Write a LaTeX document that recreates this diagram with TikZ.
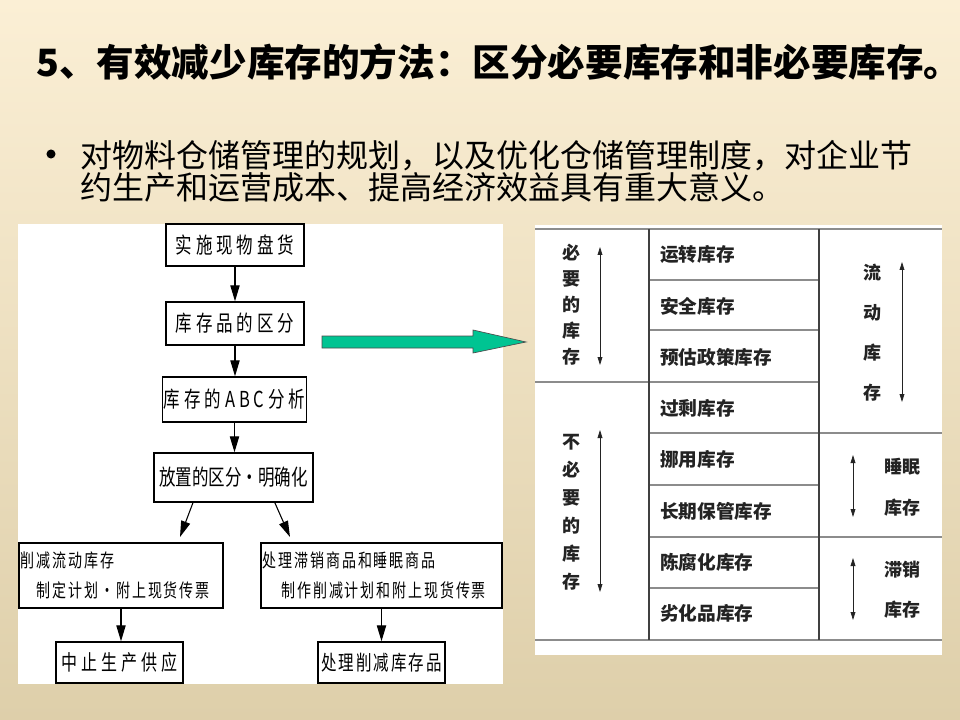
\documentclass[tikz,border=0pt]{standalone}
\usepackage{fontspec}
\setmainfont{Noto Sans CJK SC}
\newfontfamily\flowwide[FakeStretch=0.75,LetterSpace=18]{Noto Sans CJK SC}
\newfontfamily\flownarrow[FakeStretch=0.75,LetterSpace=10]{Noto Sans CJK SC}
\newfontfamily\flowtight[FakeStretch=0.75]{Noto Sans CJK SC}
\usetikzlibrary{arrows.meta}

\definecolor{bgtop}{RGB}{251,239,213}
\definecolor{bgbottom}{RGB}{222,207,170}
\definecolor{arrowgreen}{RGB}{0,196,146}
\definecolor{rulegray}{RGB}{140,140,140}
\definecolor{tabink}{RGB}{35,35,35}

\tikzset{
  flowbox/.style={draw=black, line width=1.1pt, fill=white, inner sep=1pt, align=center},
  flowarrow/.style={-{Triangle[length=12pt,width=7pt]}, line width=0.8pt},
  rowtext/.style={anchor=west, inner sep=0pt, font=\bfseries\fontsize{14}{16}\selectfont, text=tabink},
  sidetext/.style={align=center, inner sep=0pt, text=tabink},
  spanarrow/.style={{Triangle[length=6pt,width=3.6pt]}-{Triangle[length=6pt,width=3.6pt]}, line width=0.6pt, tabink},
  rowrule/.style={rulegray, line width=2pt},
  colrule/.style={black!75, line width=0.8pt}
}

\begin{document}
\begin{tikzpicture}[x=0.75pt, y=-0.75pt]
    \useasboundingbox (0,0) rectangle (960,720);
    \shade[top color=bgtop, bottom color=bgbottom] (0,0) rectangle (960,720);

    % heading and bullet
    \node[anchor=west, inner sep=0pt, font=\bfseries\fontsize{28.2}{32}\selectfont] (title) at (36,62) {5、有效减少库存的方法：区分必要库存和非必要库存。};
    \fill (51,154) circle [radius=3.4pt];
    \node[anchor=west, inner sep=0pt, align=left, font=\fontsize{24}{24}\selectfont] (intro) at (80,171) {对物料仓储管理的规划，以及优化仓储管理制度，对企业节\\约生产和运营成本、提高经济效益具有重大意义。};

    % panels
    \fill[white] (18,224) rectangle (503,684);
    \fill[white] (535,225) rectangle (942,655);

    % flow chart
    \node[flowbox, minimum width=103.5pt, minimum height=31.5pt, font=\flowwide\fontsize{16.5}{18}\selectfont] (count) at (235,245) {实施现物盘货};
    \node[flowbox, minimum width=103.5pt, minimum height=32.25pt, font=\flowwide\fontsize{16.5}{18}\selectfont] (sort) at (235,323.5) {库存品的区分};
    \node[flowbox, minimum width=104.25pt, minimum height=33.75pt, font=\flowwide\fontsize{16.5}{18}\selectfont] (abc) at (234.5,399.5) {库存的ABC分析};
    \node[flowbox, minimum width=119.25pt, minimum height=36.75pt, font=\flowtight\fontsize{16.5}{18}\selectfont] (place) at (233.5,477.5) {放置的区分・明确化};
    \node[flowbox, minimum width=153pt, minimum height=48.75pt, text width=150pt, align=left, font=\flownarrow\fontsize{14}{22.5}\selectfont] (cut) at (121,575.5) {削减流动库存\\\hspace*{12pt}制定计划・附上现货传票};
    \node[flowbox, minimum width=180.75pt, minimum height=48.75pt, text width=178pt, align=left, font=\flownarrow\fontsize{14}{22.5}\selectfont] (clear) at (381.5,575.5) {处理滞销商品和睡眠商品\\\hspace*{14pt}制作削减计划和附上现货传票};
    \node[flowbox, minimum width=95.25pt, minimum height=30.75pt, font=\flowwide\fontsize{16}{18}\selectfont] (halt) at (119.5,662.5) {中止生产供应};
    \node[flowbox, minimum width=95.25pt, minimum height=30.75pt, font=\flownarrow\fontsize{15.5}{18}\selectfont] (dispose) at (381.5,662.5) {处理削减库存品};
    \coordinate (tocut) at (180,537);
    \coordinate (toclear) at (290,537);

    \draw[flowarrow] (count) -- (sort);
    \draw[flowarrow] (sort.south) -- (sort.south |- abc.north);
    \draw[flowarrow] (abc.south) -- (abc.south |- place.north);
    \draw[flowarrow] ([xshift=-30.4pt]place.south) -- (tocut);
    \draw[flowarrow] ([xshift=31pt]place.south) -- (toclear);
    \draw[flowarrow] (cut.south) -- (cut.south |- halt.north);
    \draw[flowarrow] (clear) -- (dispose);

    % green arrow
    \draw[fill=arrowgreen, draw=black!70, line width=0.5pt] (322,336) -- (473,336) -- (473,330) -- (526,342) -- (473,353) -- (473,348) -- (322,348) -- cycle;

    % inventory table
    \draw[rowrule] (535,229) -- (942,229);
    \foreach \y in {280,330,485,588}
        \draw[rowrule] (649,\y) -- (819,\y);
    \draw[rowrule] (535,382) -- (819,382);
    \foreach \y in {433,537}
        \draw[rowrule] (649,\y) -- (942,\y);
    \draw[rowrule] (535,640) -- (942,640);
    \foreach \x in {649,819}
        \draw[colrule] (\x,229) -- (\x,640);

    \foreach \t [count=\i] in {运转库存,安全库存,预估政策库存,过剩库存,挪用库存,长期保管库存,陈腐化库存,劣化品库存}
        \node[rowtext] (row\i) at (660,{203.3+51.3*\i}) {\t};

    \node[sidetext, font=\bfseries\fontsize{13.5}{19.5}\selectfont] (need) at (571,305) {必\\要\\的\\库\\存};
    \node[sidetext, font=\bfseries\fontsize{13.5}{21}\selectfont] (noneed) at (571,512) {不\\必\\要\\的\\库\\存};
    \node[sidetext, font=\bfseries\fontsize{13.5}{30}\selectfont] (flow) at (872,333) {流\\动\\库\\存};
    \node[sidetext, font=\bfseries\fontsize{13.5}{30.75}\selectfont] (sleep) at (902,487.5) {睡眠\\库存};
    \node[sidetext, font=\bfseries\fontsize{13.5}{30}\selectfont] (slow) at (902,590) {滞销\\库存};

    \draw[spanarrow] (600,247) -- (600,365);
    \draw[spanarrow] (600,430) -- (600,592);
    \draw[spanarrow] (902,262) -- (902,402);
    \draw[spanarrow] (853,455) -- (853,517);
    \draw[spanarrow] (853,558) -- (853,620);
\end{tikzpicture}
\end{document}
